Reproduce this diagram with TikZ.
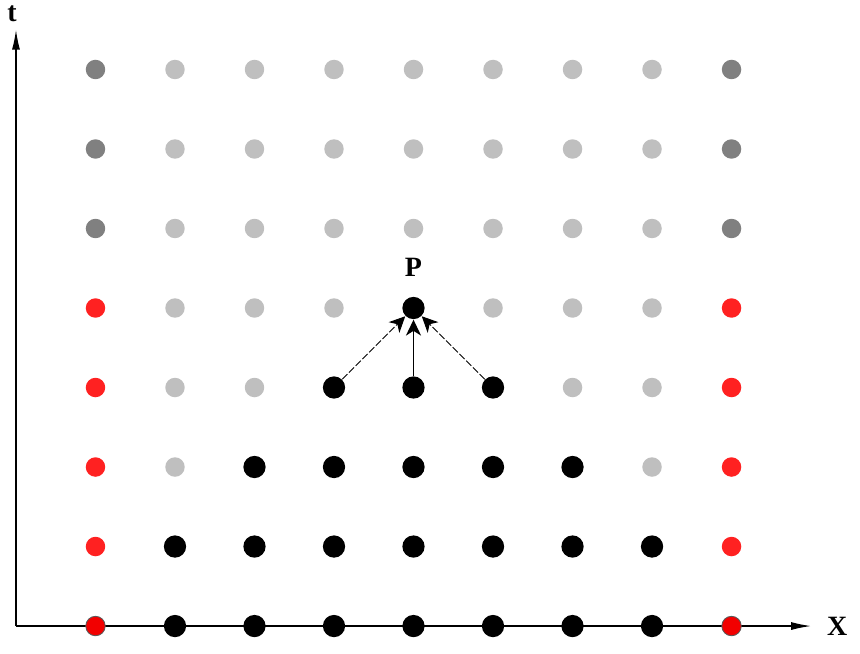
\documentclass[tikz,border=0pt]{standalone}
\usepackage{tikz}
\usepackage{fontspec}
\setmainfont{Liberation Serif}
\usetikzlibrary{arrows.meta}

\begin{document}
\begin{tikzpicture}[
    every node/.style={inner sep=0pt},
    blk/.style={circle, fill=black, minimum size=0.28cm},
    lgray/.style={circle, fill=gray!50, minimum size=0.245cm},
    dgray/.style={circle, fill=gray, minimum size=0.245cm},
    bnd/.style={circle, fill=red!87!white, minimum size=0.245cm},
    bndax/.style={circle, fill=red!95!black, draw=gray!70!black, line width=0.3pt, minimum size=0.245cm},
    dep/.style={line width=0.35pt, dash pattern=on 2.6pt off 0.8pt, -{Stealth[length=0.2cm, width=0.19cm, inset=0.06cm]}},
    depc/.style={line width=0.55pt, -{Stealth[length=0.2cm, width=0.19cm, inset=0.06cm]}}
]
    % Page frame
    \useasboundingbox (-0.201,-0.34) rectangle (10.616,7.874);

    % Set up coordinate system
    \coordinate (origin) at (0,0);
    \coordinate (xend) at (10,0);
    \coordinate (tend) at (0,7.5);
    \draw[line width=0.45pt, -{Latex[length=0.25cm, width=0.1cm]}] (origin) -- (xend);
    \draw[line width=0.45pt, -{Latex[length=0.25cm, width=0.1cm]}] (origin) -- (tend);
    \node (xlab) at (10.33,0) {\bfseries X};
    \node (tlab) at (-0.05,7.70) {\bfseries t};

    % Upper rows (not yet reached)
    \foreach \r in {5,6,7} {
        \node[dgray] (p-1-\r) at (1,\r) {};
        \node[dgray] (p-9-\r) at (9,\r) {};
        \foreach \c in {2,...,8} {
            \node[lgray] (p-\c-\r) at (\c,\r) {};
        }
    }

    % Boundary points
    \node[bndax] (p-1-0) at (1,0) {};
    \node[bndax] (p-9-0) at (9,0) {};
    \foreach \r in {1,...,4} {
        \node[bnd] (p-1-\r) at (1,\r) {};
        \node[bnd] (p-9-\r) at (9,\r) {};
    }

    % Inner points: light ones first
    \foreach \c/\r in {2/2,8/2, 2/3,3/3,7/3,8/3, 2/4,3/4,4/4,6/4,7/4,8/4} {
        \node[lgray] (p-\c-\r) at (\c,\r) {};
    }

    % Computed points
    \foreach \r in {0,1} {
        \foreach \c in {2,...,8} {
            \node[blk] (p-\c-\r) at (\c,\r) {};
        }
    }
    \foreach \c in {3,...,7} {
        \node[blk] (p-\c-2) at (\c,2) {};
    }
    \foreach \c in {4,5,6} {
        \node[blk] (p-\c-3) at (\c,3) {};
    }
    \node[blk] (P) at (5,4) {};
    \node (plab) at (5,4.516) {\bfseries P};

    % Dependencies of P
    \draw[dep] (p-4-3) -- (P);
    \draw[depc] (p-5-3) -- (P);
    \draw[dep] (p-6-3) -- (P);
\end{tikzpicture}
\end{document}
